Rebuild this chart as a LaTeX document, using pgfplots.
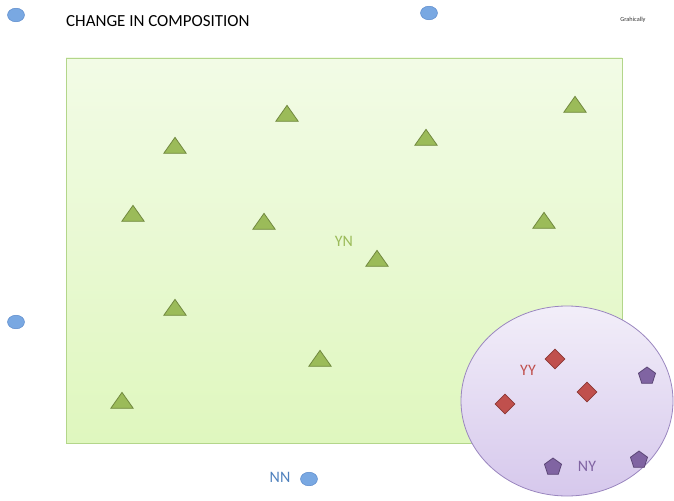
\documentclass[border=0pt]{standalone}
\usepackage{pgfplots}
\pgfplotsset{compat=1.18}
\usepackage{fontspec}
\setmainfont{Carlito}
\definecolor{ynfill}{HTML}{9BBB59}
\definecolor{ynedge}{HTML}{71893F}
\definecolor{yyfill}{HTML}{C0504D}
\definecolor{yyedge}{HTML}{8C3836}
\definecolor{nyfill}{HTML}{8064A2}
\definecolor{nyedge}{HTML}{5C4776}
\definecolor{nnfill}{HTML}{79A8E2}
\definecolor{nnedge}{HTML}{5B8ACB}
\definecolor{nntext}{HTML}{4F81BD}
\definecolor{rectop}{HTML}{F2FBE6}
\definecolor{recbot}{HTML}{DFF7BE}
\definecolor{recedge}{HTML}{B3D68A}
\definecolor{elltop}{HTML}{F2EEF9}
\definecolor{ellbot}{HTML}{D6C8EC}
\definecolor{elledge}{HTML}{9A86BF}
\begin{document}
\begin{tikzpicture}
\begin{axis}[width=674bp,height=501bp,scale only axis,
  xmin=0,xmax=674,ymin=0,ymax=501,y dir=reverse,
  axis lines=none,clip=false]
% green rectangle (YN region)
\addplot[draw=recedge,line width=0.8pt,top color=rectop,bottom color=recbot]
  coordinates {(66,58) (622,58) (622,443) (66,443)} -- cycle;
% purple ellipse (YY/NY region)
\draw[draw=elledge,line width=0.8pt,top color=elltop,bottom color=ellbot]
  (axis cs:567,401) ellipse [x radius=106bp, y radius=95bp];
% YN triangles
\addplot[only marks,mark=triangle*,mark size=13pt,
  mark options={yscale=0.82,fill=ynfill,draw=ynedge,line width=0.8pt}]
  coordinates {(287,116) (575,107) (175,148) (426,140) (133,216) (264,224)
               (544,223) (377,261) (175,310) (320,361) (122,403)};
% YY diamonds
\addplot[only marks,mark=square*,mark size=7pt,
  mark options={rotate=45,fill=yyfill,draw=yyedge,line width=0.8pt}]
  coordinates {(555,359) (587,392) (505,404)};
% NY pentagons
\addplot[only marks,mark=pentagon*,mark size=9pt,
  mark options={fill=nyfill,draw=nyedge,line width=0.8pt}]
  coordinates {(647,376) (553,467) (639,460)};
% NN circles
\addplot[only marks,mark=*,mark size=8.5pt,
  mark options={yscale=0.8,draw=nnedge,line width=0.5pt,fill=nnfill}]
  coordinates {(16,15) (429,13) (16,322) (309,479)};
% labels
\node[anchor=west,inner sep=0pt,font=\fontsize{17}{19}\selectfont] at (axis cs:66,21) {CHANGE IN COMPOSITION};
\node[text=black!80,font=\fontsize{6.3}{7}\selectfont] at (axis cs:633,20) {Grahically};
\node[text=ynfill,font=\fontsize{16}{18}\selectfont] at (axis cs:344,241) {YN};
\node[text=yyfill,font=\fontsize{16}{18}\selectfont] at (axis cs:528,370) {YY};
\node[text=nyfill,font=\fontsize{16}{18}\selectfont] at (axis cs:587,466) {NY};
\node[text=nntext,font=\fontsize{16}{18}\selectfont] at (axis cs:280,477) {NN};
\end{axis}
\pgfresetboundingbox
\path[use as bounding box] (current axis.south west) rectangle (current axis.north east);
\end{tikzpicture}
\end{document}
